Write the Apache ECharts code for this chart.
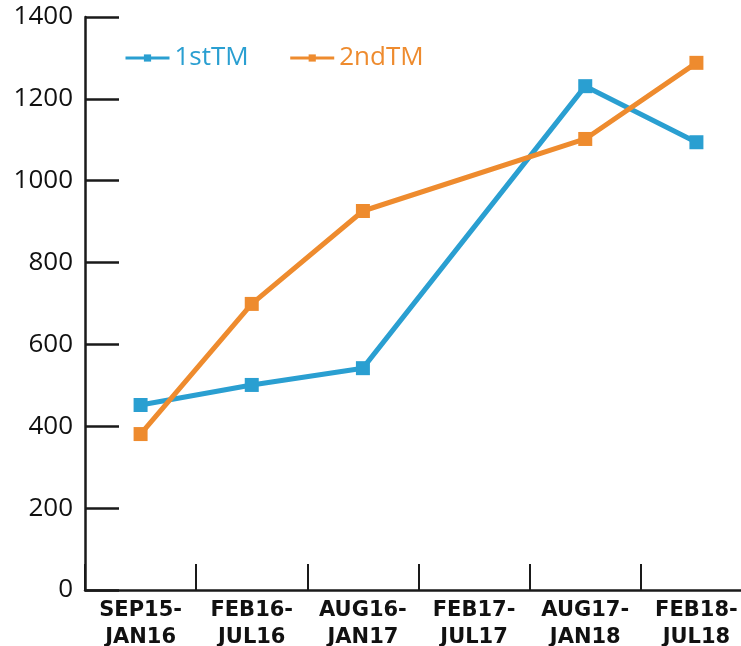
<!DOCTYPE html>
<html>
<head>
<meta charset="utf-8">
<script src="https://cdn.jsdelivr.net/npm/echarts@6/dist/echarts.min.js"></script>
<style>
  html, body { margin: 0; padding: 0; background: #fff; }
  #chart { width: 741px; height: 646px; }
</style>
</head>
<body>
<div id="chart"></div>
<script>
const categories = ['SEP15-JAN16', 'FEB16-JUL16', 'AUG16-JAN17', 'FEB17-JUL17', 'AUG17-JAN18', 'FEB18-JUL18']
const firstTM = [452, 501, 542, null, 1231, 1094]
const secondTM = [381, 699, 926, null, 1102, 1288]
const yTicks = [0, 200, 400, 600, 800, 1000, 1200, 1400]

const BLUE = '#2A9FD1'
const ORANGE = '#EE8B2E'
const AXIS = '#1a1a1a'

const chart = echarts.init(document.getElementById('chart'))

const makeSeries = (name, data, color) => ({
  name,
  type: 'line',
  data,
  connectNulls: true,
  symbol: 'rect',
  symbolSize: 14,
  lineStyle: { color, width: 5 },
  itemStyle: { color },
  emphasis: { disabled: true },
  animation: false
})

chart.setOption({
  textStyle: { fontFamily: 'Open Sans' },
  legend: {
    left: 119,
    top: 40,
    itemWidth: 44,
    itemHeight: 9,
    itemGap: 40,
    lineStyle: { width: 3 },
    textStyle: { fontSize: 26, fontFamily: 'Open Sans' },
    data: [
      { name: '1stTM', textStyle: { color: BLUE } },
      { name: '2ndTM', textStyle: { color: ORANGE } }
    ]
  },
  grid: { left: 85, right: -11, top: 17, bottom: 56, outerBoundsMode: 'none' },
  xAxis: {
    type: 'category',
    data: categories,
    boundaryGap: true,
    axisLine: { lineStyle: { color: AXIS, width: 2.5 } },
    axisTick: { show: true, inside: true, length: 26, lineStyle: { color: AXIS, width: 2 } },
    axisLabel: {
      interval: 0,
      margin: 7,
      color: '#111',
      fontFamily: 'DejaVu Sans',
      fontWeight: 'bold',
      fontSize: 21,
      lineHeight: 27,
      formatter: v => v.replace('-', '-\n')
    }
  },
  yAxis: {
    type: 'value',
    min: yTicks[0],
    max: yTicks[yTicks.length - 1],
    interval: yTicks[1] - yTicks[0],
    axisLine: { show: true, lineStyle: { color: AXIS, width: 2.5 } },
    axisTick: { show: true, inside: true, length: 34, lineStyle: { color: AXIS, width: 2.5 } },
    splitLine: { show: false },
    axisLabel: {
      color: '#111',
      fontSize: 26,
      fontFamily: 'Open Sans',
      margin: 12,
      formatter: v => String(v)
    }
  },
  series: [
    makeSeries('1stTM', firstTM, BLUE),
    makeSeries('2ndTM', secondTM, ORANGE)
  ]
})
</script>
</body>
</html>
